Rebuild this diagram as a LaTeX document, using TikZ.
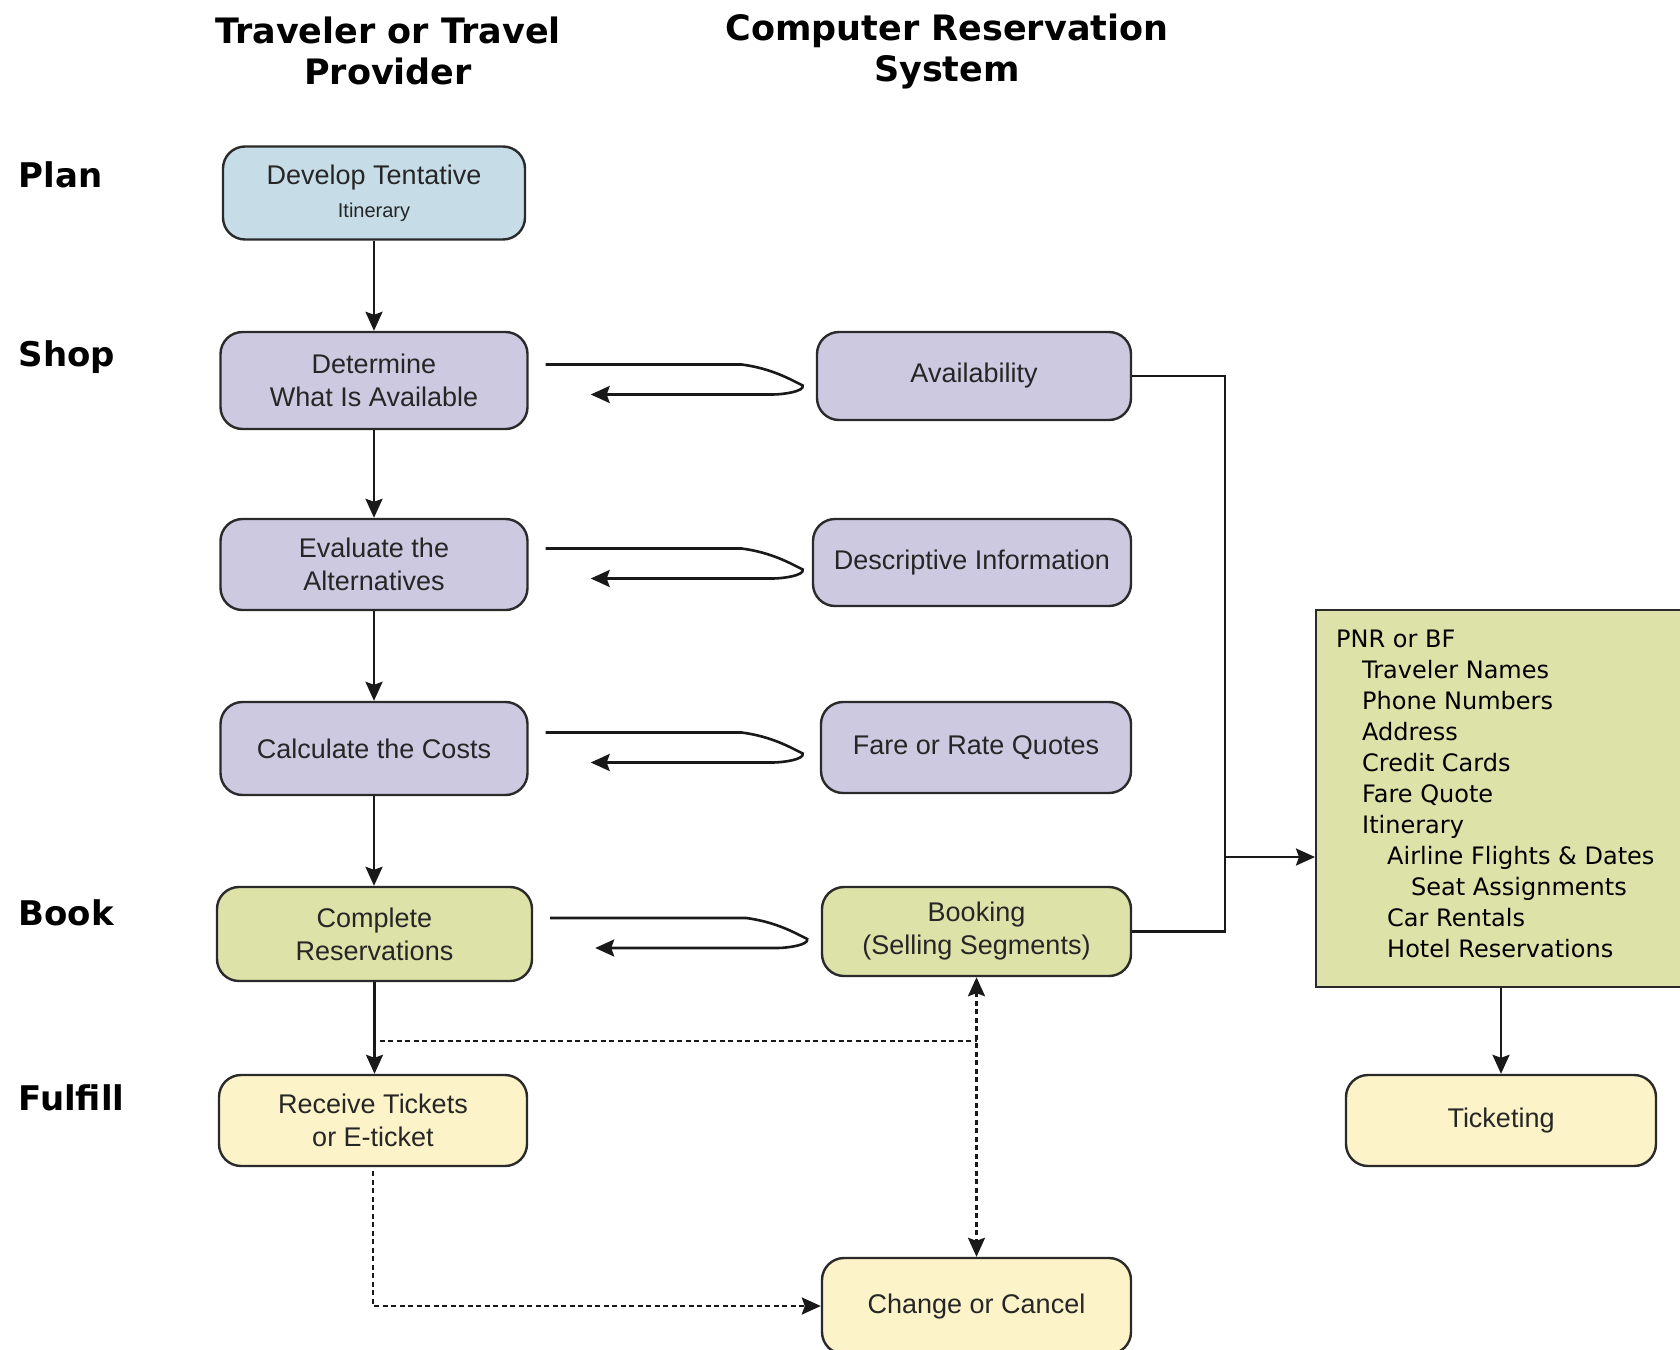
\documentclass[tikz,border=0pt]{standalone}
\usepackage{fontspec}
\setmainfont{Liberation Sans}
\newfontfamily\headfont{DejaVu Sans}
\usetikzlibrary{arrows.meta,calc}
\definecolor{planfill}{HTML}{C6DDE8}
\definecolor{shopfill}{HTML}{CDC9E1}
\definecolor{bookfill}{HTML}{DCE2A8}
\definecolor{fulfillfill}{HTML}{FCF4C8}
\definecolor{edge}{HTML}{2A2A2A}

\begin{document}
\begin{tikzpicture}[x=1pt,y=-1pt,
  stage/.style={draw=edge,line width=2.4pt,rounded corners=22pt,align=center,
    text=black!85,font=\fontsize{27}{33}\selectfont,inner sep=0pt},
  head/.style={font=\headfont\bfseries\fontsize{35}{41}\selectfont,align=center},
  phase/.style={font=\headfont\bfseries\fontsize{34}{40}\selectfont,anchor=west},
  pnrbox/.style={draw=edge,line width=2.4pt,fill=bookfill,inner sep=0pt},
  pnrtext/.style={font=\headfont\fontsize{24}{31}\selectfont,align=left,inner sep=0pt},
  wire/.style={line width=2.6pt,black!90},
  flow/.style={wire,-{Stealth[length=19pt,width=17pt,inset=3pt]}},
  dotflow/.style={wire,dash pattern=on 5pt off 3.5pt},
]
  \useasboundingbox (0,0) rectangle (1680,1349);

  % column heads and phases
  \node[head] (trav) at (388,51) {Traveler or Travel\\Provider};
  \node[head] (crs) at (947,51) {Computer Reservation\\System};
  \foreach \n/\t/\y in {plan/Plan/175, shop/Shop/357, book/Book/913, fulfil/Fulfill/1098} {
    \node[phase] (\n) at (15,\y) {\t};
  }

  % traveler column
  \node[stage,fill=planfill,minimum width=302pt,minimum height=93pt] (tent) at (374,193)
    {Develop Tentative\\{\fontsize{20}{24}\selectfont Itinerary}};
  \node[stage,fill=shopfill,minimum width=307pt,minimum height=97pt] (det) at (374,380.5)
    {Determine\\What Is Available};
  \node[stage,fill=shopfill,minimum width=307pt,minimum height=91pt] (eval) at (374,564.5)
    {Evaluate the\\Alternatives};
  \node[stage,fill=shopfill,minimum width=307pt,minimum height=93pt] (cost) at (374,748.5)
    {Calculate the Costs};
  \node[stage,fill=bookfill,minimum width=315pt,minimum height=94pt] (compl) at (374.5,934)
    {Complete\\Reservations};
  \node[stage,fill=fulfillfill,minimum width=308pt,minimum height=91pt] (recv) at (373,1120.5)
    {Receive Tickets\\or E-ticket};

  % reservation system column
  \node[stage,fill=shopfill,minimum width=314pt,minimum height=88pt] (avl) at (974,376)
    {Availability};
  \node[stage,fill=shopfill,minimum width=318pt,minimum height=87pt] (desc) at (972,562.5)
    {Descriptive Information};
  \node[stage,fill=shopfill,minimum width=310pt,minimum height=91pt] (fare) at (976,747.5)
    {Fare or Rate Quotes};
  \node[stage,fill=bookfill,minimum width=309pt,minimum height=89pt] (bkg) at (976.5,931.5)
    {Booking\\(Selling Segments)};
  \node[stage,fill=fulfillfill,minimum width=309pt,minimum height=96pt] (chg) at (976.5,1306)
    {Change or Cancel};

  % record and ticketing
  \node[pnrbox,anchor=north west,minimum width=380pt,minimum height=377pt] (pnr) at (1315,609) {};
  \node[pnrtext,anchor=north west] (pnrlist) at (1336,630)
    {PNR or BF\\
     \hspace*{26pt}Traveler Names\\
     \hspace*{26pt}Phone Numbers\\
     \hspace*{26pt}Address\\
     \hspace*{26pt}Credit Cards\\
     \hspace*{26pt}Fare Quote\\
     \hspace*{26pt}Itinerary\\
     \hspace*{51pt}Airline Flights \& Dates\\
     \hspace*{75pt}Seat Assignments\\
     \hspace*{51pt}Car Rentals\\
     \hspace*{51pt}Hotel Reservations};
  \node[stage,fill=fulfillfill,minimum width=310pt,minimum height=91pt] (tick) at (1501,1120.5)
    {Ticketing};

  % main flow
  \foreach \a/\b in {tent/det, det/eval, eval/cost, cost/compl, compl/recv} {
    \draw[flow] (\a.south) -- (\a.south |- \b.north);
  }

  % requests and replies
  \foreach \l in {det, eval, cost, compl} {
    \draw[flow] ([xshift=17pt,yshift=16pt]\l.east) -- ++(196pt,0pt)
      .. controls +(30pt,-4pt) and +(-12pt,6pt) .. ++(61pt,-21pt)
      .. controls +(2pt,-6pt) and +(10pt,0pt) .. ++(-30pt,-9pt)
      -- ++(-182pt,0pt);
  }

  % into the record
  \coordinate (bus) at (1225,857);
  \draw[wire] (avl.east) -| (bus) |- (bkg.east);
  \draw[flow] (bus) -- (bus -| pnr.west);
  \draw[flow] (pnr.south -| tick.north) -- (tick.north);

  % changes
  \path (compl.south) -- (recv.north) coordinate[pos=0.64] (split);
  \draw[dotflow] ([xshift=6pt]split) -- (split -| bkg.south);
  \draw[dotflow,{Stealth[length=19pt,width=17pt,inset=3pt]}-{Stealth[length=19pt,width=17pt,inset=3pt]}]
    (bkg.south) -- (chg.north);
  \draw[dotflow,-{Stealth[length=19pt,width=17pt,inset=3pt]}] ([yshift=-4pt]recv.south) |- (chg.west);
\end{tikzpicture}
\end{document}
